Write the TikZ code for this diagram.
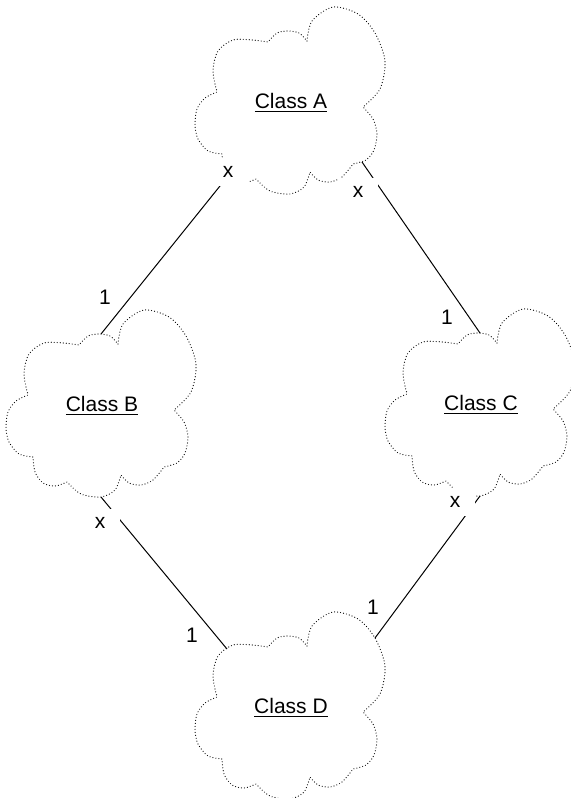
\documentclass[tikz,border=0pt]{standalone}
\usepackage{fontspec}
\setmainfont{Liberation Sans}
\tikzset{
	every path/.style={line width=0.5pt},
	every node/.style={font=\fontsize{10.5}{12}\selectfont},
	cloudline/.style={line width=0.6pt,line cap=round,dash pattern=on 0pt off 1.5pt},
	link/.style={line width=0.5pt},
	many/.style={fill=white,inner xsep=7.5pt,inner ysep=4pt},
	single/.style={inner sep=1pt},
	cloud/.pic={
		% outline, one smooth lobe between two notches...........
		\draw[cloudline]
			plot[smooth] coordinates {(17,-60) (22,-80) (43,-94) (68,-87) (85,-68) (95,-40) (90,-12) (73,6)}
			-- plot[smooth] coordinates {(73,6) (83,18) (87,33) (84,49) (76,59) (63,63)}
			-- plot[smooth] coordinates {(63,63) (52,76) (40,81) (28,79) (20,71)}
			-- plot[smooth] coordinates {(20,71) (14,86) (0,93) (-20,90) (-34,78)}
			-- plot[smooth] coordinates {(-34,78) (-46,82) (-58,79) (-66,68) (-68,53)}
			-- plot[smooth] coordinates {(-68,53) (-82,50) (-92,38) (-95,24) (-93,8) (-85,-3) (-73,-9)}
			-- plot[smooth] coordinates {(-73,-9) (-77,-30) (-72,-50) (-57,-61) (-38,-61) (-22,-59)}
			-- plot[smooth] coordinates {(-22,-59) (-13,-68) (-2,-70) (9,-68) (17,-60)}
			-- cycle;
		% class name
		\node (-name) at (1,2) {\underline{#1}};
		% attach points
		\coordinate (-top) at (0,-70);
		\coordinate (-bot) at (0,93);
		\coordinate (-ll) at (-62,75);
		\coordinate (-lr) at (72,61);
		\coordinate (-ul) at (-63,-57);
		\coordinate (-ur) at (85,-68);
	}
}

\begin{document}
\begin{tikzpicture}[x=0.5pt,y=-0.5pt]
	\useasboundingbox (0,0) rectangle (570,798);

	% clouds...................
	\pic (A) at (290,101) {cloud=Class A};
	\pic (B) at (101,404) {cloud=Class B};
	\pic (C) at (480,403) {cloud=Class C};
	\pic (D) at (290,706) {cloud=Class D};

	% links....................
	\draw[link] (B-top) -- (A-ll);
	\draw[link] (A-lr) -- (C-top);
	\draw[link] (B-bot) -- (D-ul);
	\draw[link] (C-bot) -- (D-ur);

	% multiplicities...........
	\node[many] (mAB) at (228,172) {x};
	\node[single] (mBA) at (105,297) {1};
	\node[many] (mAC) at (358,192) {x};
	\node[single] (mCA) at (447,317) {1};
	\node[many] (mBD) at (100,523) {x};
	\node[single] (mDB) at (192,635) {1};
	\node[many] (mCD) at (455,502) {x};
	\node[single] (mDC) at (373,607) {1};
\end{tikzpicture}
\end{document}
